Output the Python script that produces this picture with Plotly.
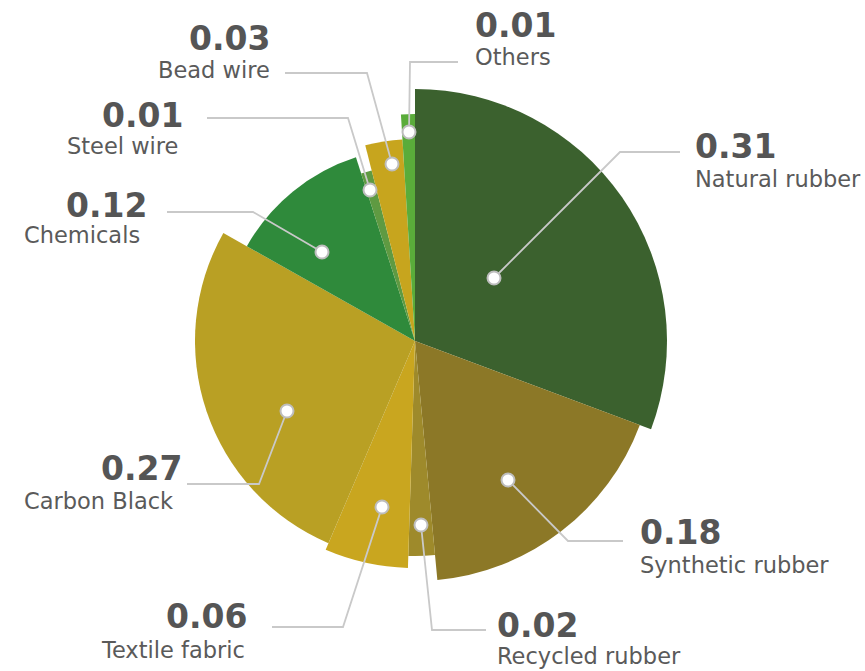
import plotly.graph_objects as go

# ---------------- data ----------------
categories = ["Natural rubber", "Synthetic rubber", "Recycled rubber", "Textile fabric",
              "Carbon Black", "Chemicals", "Steel wire", "Bead wire", "Others"]
values = [0.31, 0.18, 0.02, 0.06, 0.27, 0.12, 0.01, 0.03, 0.01]
# outer radius of each slice (radial-axis units)
slice_radius = [252, 240, 215, 227, 220, 193, 176, 202, 227]
value_labels = ["0.31", "0.18", "0.02", "0.06", "0.27", "0.12", "0.01", "0.03", "0.01"]

# ---------------- style ----------------
colors = ["#3b612e", "#8c7827", "#9e8a2b", "#c9a61f", "#b9a024",
          "#2f8a3b", "#5f9a42", "#c7a51e", "#5aac3a"]
W, H = 865, 671
CX, CY, RPX = 415, 341, 260  # polar centre / radius in pixels

# label layout (pixels): dot, elbow, line end, text anchor side, text x, value y, name y
label_layout = [
    dict(dot=(494, 278), elbow=(620, 152), end=680, side="left", vx=694, nx=694, vy=146, ny=179),
    dict(dot=(508, 480), elbow=(568, 541), end=623, side="left", vx=639, nx=639, vy=532.5, ny=564.5),
    dict(dot=(421, 525), elbow=(432, 630), end=486, side="left", vx=496, nx=496, vy=625.5, ny=655.5),
    dict(dot=(382, 507), elbow=(343, 627), end=272, side="right", vx=248, nx=246, vy=616, ny=650),
    dict(dot=(287, 411), elbow=(259, 484), end=187, side="right", vx=183, nx=174, vy=468.5, ny=500.5),
    dict(dot=(322, 252), elbow=(253, 212), end=167, side="right", vx=148, nx=141, vy=205.5, ny=235.5),
    dict(dot=(370, 190), elbow=(348, 118), end=207, side="right", vx=184, nx=179, vy=115, ny=146.5),
    dict(dot=(392, 164), elbow=(367, 73), end=285, side="right", vx=271, nx=271, vy=38, ny=70),
    dict(dot=(409, 132), elbow=(410, 62), end=458, side="left", vx=474, nx=474, vy=25.5, ny=57.5),
]

total = sum(values)
widths = [v / total * 360 for v in values]
thetas = []
acc = 0.0
for w in widths:
    thetas.append(acc + w / 2)
    acc += w

fig = go.Figure()
fig.add_trace(go.Barpolar(
    r=slice_radius, theta=thetas, width=widths, base=0,
    marker=dict(color=colors, line=dict(width=0)),
    text=categories, hoverinfo="text",
))


def px(x):
    return x / W


def py(y):
    return 1 - y / H


shapes = []
annotations = []
for i, lay in enumerate(label_layout):
    dx, dy = lay["dot"]
    ex, ey = lay["elbow"]
    shapes.append(dict(
        type="path", xref="paper", yref="paper", layer="above",
        path=f"M {px(dx)} {py(dy)} L {px(ex)} {py(ey)} L {px(lay['end'])} {py(ey)}",
        line=dict(color="#c9c9c9", width=1.8),
    ))
for lay in label_layout:
    dx, dy = lay["dot"]
    r = 6.5
    shapes.append(dict(
        type="circle", xref="paper", yref="paper", layer="above",
        x0=px(dx - r), x1=px(dx + r), y0=py(dy + r), y1=py(dy - r),
        fillcolor="white", line=dict(color="#bdbdbd", width=2),
    ))
for i, lay in enumerate(label_layout):
    annotations.append(dict(
        x=px(lay["vx"]), y=py(lay["vy"]), xref="paper", yref="paper",
        text=value_labels[i], showarrow=False, xanchor=lay["side"], yanchor="middle",
        font=dict(family="DejaVu Sans", size=33, color="#555555", weight="bold"),
        borderpad=0,
    ))
    annotations.append(dict(
        x=px(lay["nx"]), y=py(lay["ny"]), xref="paper", yref="paper",
        text=categories[i], showarrow=False, xanchor=lay["side"], yanchor="middle",
        font=dict(family="DejaVu Sans", size=22.5, color="#5a5a5a"),
        borderpad=0,
    ))

fig.update_layout(
    width=W, height=H,
    margin=dict(l=0, r=0, t=0, b=0),
    paper_bgcolor="white", plot_bgcolor="white",
    showlegend=False,
    polar=dict(
        domain=dict(x=[(CX - RPX) / W, (CX + RPX) / W],
                    y=[(H - CY - RPX) / H, (H - CY + RPX) / H]),
        bgcolor="rgba(0,0,0,0)",
        radialaxis=dict(range=[0, RPX], visible=False, showgrid=False),
        angularaxis=dict(direction="clockwise", rotation=90, visible=False, showgrid=False),
        bargap=0,
    ),
    shapes=shapes,
    annotations=annotations,
)

fig.write_html(
    "out.html",
    config={"displayModeBar": False},
    post_script="document.body.style.margin='0';document.body.style.overflow='hidden';",
)
